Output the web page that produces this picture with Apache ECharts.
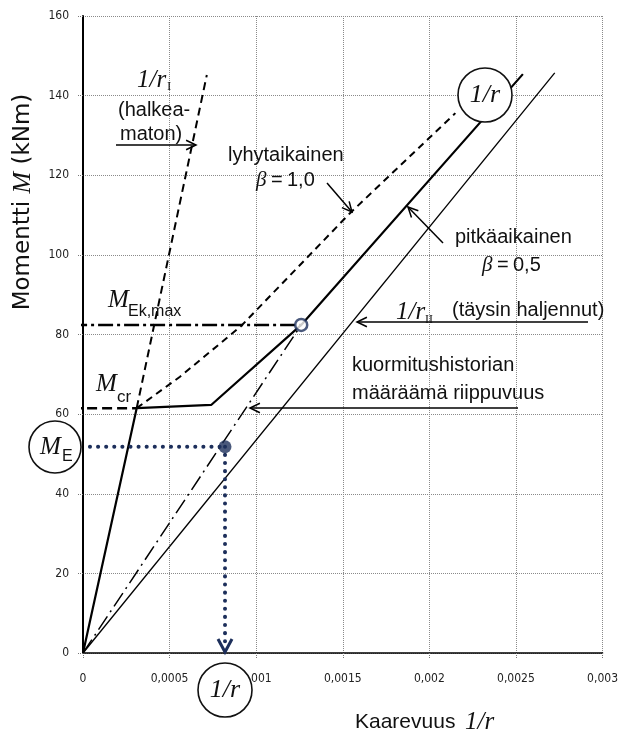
<!DOCTYPE html>
<html>
<head>
<meta charset="utf-8">
<script src="https://cdn.jsdelivr.net/npm/echarts@6/dist/echarts.min.js"></script>
<style>
  html, body { margin: 0; padding: 0; background: #fff; }
  #chart { width: 621px; height: 736px; }
</style>
</head>
<body>
<div id="chart"></div>
<script>
// Axis tick labels (Finnish decimal comma)
const xTickLabels = ['0', '0,0005', '0,001', '0,0015', '0,002', '0,0025', '0,003'];
const yTickLabels = ['0', '20', '40', '60', '80', '100', '120', '140', '160'];

// Moment–curvature relations, [curvature 1/r, moment kNm]
const uncracked = [[0.00031, 61.5], [0.000715, 145.2]];                       // 1/r_I continuation
const longTerm = [[0, 0], [0.00031, 61.5], [0.00074, 62.3], [0.00126, 82.4], [0.00254, 145.4]];
const shortTerm = [[0.00031, 61.5], [0.00056, 69.4], [0.00091, 82.0], [0.00154, 110.4], [0.00215, 135.6]];
const fullyCracked = [[0, 0], [0.002724, 145.7]];                           // 1/r_II
const historyLine = [[0, 0], [0.00126, 82.4]];                              // unloading branch
const mEkMaxLevel = [[-0.000063, 82.4], [0.00126, 82.4]];
const mCrLevel = [[-0.000063, 61.5], [0.00031, 61.5]];
const mELevel = [[0.00004, 51.8], [0.00082, 51.8]];
const curvatureDrop = [[0.00082, 51.8], [0.00082, 1.0]];
const loadPoint = [[0.00082, 51.8]];
const maxPoint = [[0.00126, 82.4]];

const NAVY = '#1d2f5b';
const SANS = '"Liberation Sans", Arial, sans-serif';
const SERIF = '"Liberation Serif", "Times New Roman", serif';
const NARROW = '"Liberation Sans Narrow", "DejaVu Sans Condensed", sans-serif';

const chart = echarts.init(document.getElementById('chart'), null, { renderer: 'canvas' });

function lineSeries(data, width, type, color, extra) {
  return Object.assign({
    type: 'line', data: data, showSymbol: false, symbol: 'none', clip: false,
    animation: false, silent: true,
    lineStyle: { width: width, type: type, color: color || '#000', cap: 'butt' }
  }, extra || {});
}

chart.setOption({
  animation: false,
  grid: { left: 83, right: 18, top: 16, bottom: 83 },
  xAxis: {
    type: 'value', min: 0, max: 0.003, interval: 0.0005,
    axisLine: { show: true, onZero: false, lineStyle: { color: '#000', width: 1.5 } },
    axisTick: { show: true, length: 5, lineStyle: { color: '#777', type: 'dotted' } },
    axisLabel: {
      margin: 20, fontSize: 12, color: '#222', fontFamily: NARROW,
      formatter: v => xTickLabels[Math.round(v / 0.0005)]
    },
    splitLine: { show: true, lineStyle: { color: '#8a8a8a', type: 'dotted', width: 1 } }
  },
  yAxis: {
    type: 'value', min: 0, max: 160, interval: 20,
    axisLine: { show: true, onZero: false, lineStyle: { color: '#000', width: 2 } },
    axisTick: { show: true, length: 5, lineStyle: { color: '#777', type: 'dotted' } },
    axisLabel: {
      margin: 14, fontSize: 12, color: '#222', fontFamily: NARROW,
      formatter: v => yTickLabels[Math.round(v / 20)]
    },
    splitLine: { show: true, lineStyle: { color: '#8a8a8a', type: 'dotted', width: 1 } }
  },
  series: [
    lineSeries(fullyCracked, 1.3, 'solid'),
    lineSeries(historyLine, 1.5, [16, 5, 2, 5]),
    lineSeries(uncracked, 2, [8, 5]),
    lineSeries(shortTerm, 2, [7, 5]),
    lineSeries(longTerm, 2.2, 'solid'),
    lineSeries(mEkMaxLevel, 2.5, [15, 4, 3, 4]),
    lineSeries(mCrLevel, 2.5, [10, 5]),
    lineSeries(mELevel, 4, [0.1, 8], NAVY, { lineStyle: { width: 4, type: [0.1, 8], color: NAVY, cap: 'round' } }),
    lineSeries(curvatureDrop, 4, [0.1, 8], NAVY, { lineStyle: { width: 4, type: [0.1, 8], color: NAVY, cap: 'round' } }),
    {
      type: 'scatter', data: loadPoint, symbol: 'circle', symbolSize: 13, silent: true,
      itemStyle: { color: NAVY }, z: 5
    },
    {
      type: 'scatter', data: maxPoint, symbol: 'circle', symbolSize: 12, silent: true,
      itemStyle: { color: '#fff', borderColor: NAVY, borderWidth: 2.5 }, z: 5
    }
  ]
});

// ---- annotations ----
function arrow(x1, y1, x2, y2, color, width) {
  const ang = Math.atan2(y2 - y1, x2 - x1);
  const L = 11, spread = Math.PI / 7;
  const c = color || '#000', w = width || 1.5;
  return [
    { type: 'line', z: 100, shape: { x1, y1, x2, y2 }, style: { stroke: c, lineWidth: w } },
    {
      type: 'polyline', z: 100,
      shape: { points: [
        [x2 - L * Math.cos(ang - spread), y2 - L * Math.sin(ang - spread)],
        [x2, y2],
        [x2 - L * Math.cos(ang + spread), y2 - L * Math.sin(ang + spread)]
      ] },
      style: { stroke: c, lineWidth: w, fill: null }
    }
  ];
}
function txt(x, y, text, font, extra) {
  return Object.assign({
    type: 'text', z: 101, x: x, y: y,
    style: { text: text, font: font, fill: '#111', textVerticalAlign: 'middle', verticalAlign: 'middle', align: 'left' }
  }, extra || {});
}
function circled(cx, cy, r) {
  return { type: 'circle', z: 100, shape: { cx, cy, r }, style: { fill: '#fff', stroke: '#111', lineWidth: 1.6 } };
}
const sans20 = '20px ' + SANS;
const ital = size => 'italic ' + size + 'px ' + SERIF;

const els = [];
// 1/r_I (halkeamaton)
els.push(txt(137, 80, '1/r', ital(25)), txt(167, 87, 'I', '13px ' + SERIF));
els.push(txt(118, 110, '(halkea-', sans20), txt(120, 134, 'maton)', sans20));
els.push(...arrow(116, 145, 196, 145));
// lyhytaikainen
els.push(txt(228, 155, 'lyhytaikainen', sans20));
els.push(txt(256, 180, 'β', ital(21)), txt(271, 180, '=', sans20), txt(287, 180, '1,0', sans20));
els.push(...arrow(327, 183, 352, 212));
// pitkäaikainen
els.push(txt(455, 237, 'pitkäaikainen', sans20));
els.push(txt(482, 265, 'β', ital(21)), txt(497, 265, '=', sans20), txt(513, 265, '0,5', sans20));
els.push(...arrow(443, 243, 408, 207));
// 1/r_II
els.push(txt(396, 312, '1/r', ital(25)), txt(425, 320, 'II', '12px ' + SERIF));
els.push(txt(452, 310, '(täysin haljennut)', sans20));
els.push(...arrow(588, 322, 357, 322));
// kuormitushistoria
els.push(txt(352, 365, 'kuormitushistorian', sans20), txt(352, 393, 'määräämä riippuvuus', sans20));
els.push(...arrow(518, 408, 250, 408));
// moment labels
els.push(txt(108, 300, 'M', ital(25)), txt(128, 312, 'Ek,max', '16px ' + SANS));
els.push(txt(96, 384, 'M', ital(25)), txt(117, 397, 'cr', '17px ' + SANS));
els.push(circled(55, 447, 26), txt(40, 447, 'M', ital(25)), txt(62, 457, 'E', '16px ' + SANS));
// circled 1/r labels
els.push(circled(485, 95, 27), txt(485, 95, '1/r', ital(26), { style: { text: '1/r', font: ital(26), fill: '#111', align: 'center', verticalAlign: 'middle' } }));
els.push(circled(225, 690, 27), txt(225, 690, '1/r', ital(26), { style: { text: '1/r', font: ital(26), fill: '#111', align: 'center', verticalAlign: 'middle' } }));
// arrow head at the end of the dotted curvature drop
els.push({
  type: 'polyline', z: 100,
  shape: { points: [[218, 639], [225, 652], [232, 639]] },
  style: { stroke: NAVY, lineWidth: 3, fill: null }
});
// axis titles
els.push({
  type: 'text', z: 101, x: 23, y: 202, rotation: Math.PI / 2,
  style: {
    text: '{a|Momentti }{m|M}{a| (kNm)}',
    rich: {
      a: { font: '500 23px "DejaVu Sans", Verdana, sans-serif', fill: '#111' },
      m: { font: ital(26), fill: '#111' }
    },
    align: 'center', verticalAlign: 'middle'
  }
});
els.push(txt(355, 722, 'Kaarevuus', '21px ' + SANS));
els.push(txt(465, 722, '1/r', ital(25)));

chart.setOption({ graphic: { elements: els } });
</script>
</body>
</html>
